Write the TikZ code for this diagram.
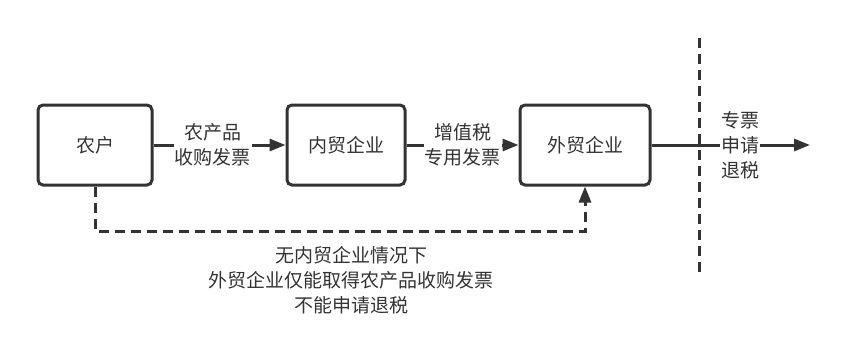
\documentclass[tikz,border=0pt]{standalone}
\usepackage{fontspec}
\newfontfamily\cjk{Noto Sans CJK SC}
\usetikzlibrary{arrows.meta}
\definecolor{ink}{HTML}{333333}
\begin{document}
\begin{tikzpicture}[x=1pt,y=-1pt,
  font=\cjk\fontsize{19}{25}\selectfont,
  box/.style={draw=ink,line width=3pt,rounded corners=5pt,minimum height=80pt,inner sep=0pt,text=ink},
  conn/.style={draw=ink,line width=3pt,-{Triangle[length=16pt,width=12pt]}},
  lbl/.style={fill=white,text=ink,align=center,inner sep=1pt}]
\useasboundingbox (0,0) rectangle (844,349);
\node[box,minimum width=114pt] (farm) at (95,145) {农户};
\node[box,minimum width=118pt] (dom) at (346,145) {内贸企业};
\node[box,minimum width=130pt] (ext) at (585,145) {外贸企业};
\coordinate (end) at (810,145);
\coordinate (vtop) at (699,38);
\coordinate (vbot) at (699,278);
\draw[ink,line width=3pt,dash pattern=on 10pt off 6pt] (vtop) -- (vbot);
\draw[conn] (farm) -- node[lbl,pos=0.45] (l1) {农产品\\收购发票} (dom);
\draw[conn] (dom) -- node[lbl,pos=0.5] (l2) {增值税\\专用发票} (ext);
\draw[conn] (ext) -- node[lbl,pos=0.56] (l3) {专票\\申请\\退税} (end);
\draw[conn,dash pattern=on 10pt off 6pt] (farm.south) -- (95,231) -- (585,231) -- (ext.south);
\node[text=ink,align=center] (note) at (351,280) {无内贸企业情况下\\外贸企业仅能取得农产品收购发票\\不能申请退税};
\end{tikzpicture}
\end{document}
